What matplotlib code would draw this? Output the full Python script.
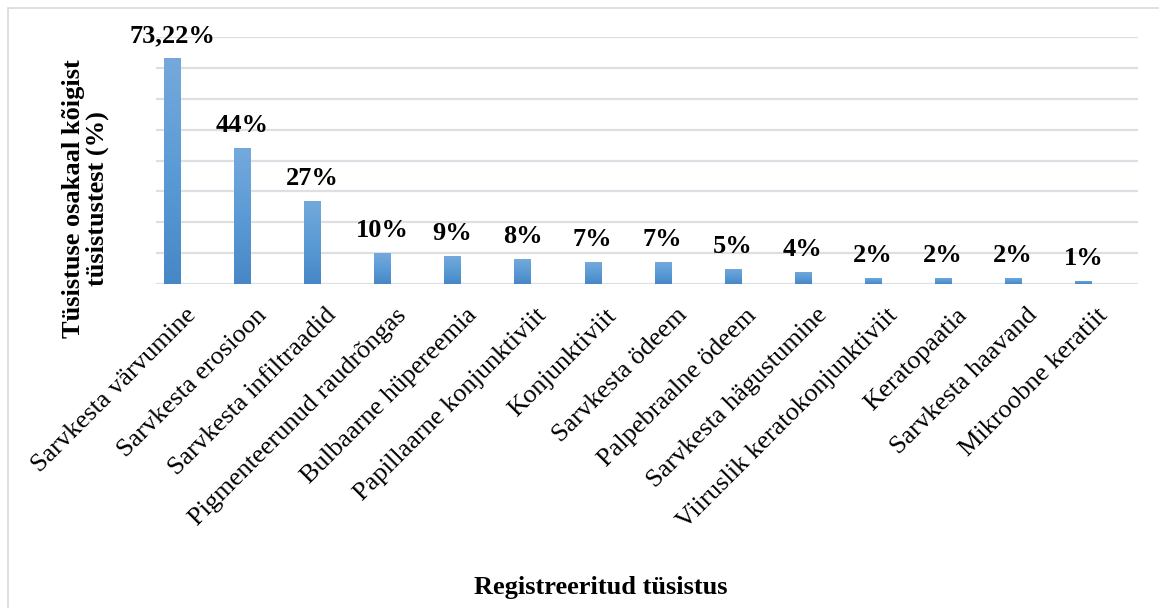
import numpy as np
import matplotlib
matplotlib.use("Agg")
import matplotlib.pyplot as plt
from matplotlib.patches import Rectangle
from matplotlib.colors import LinearSegmentedColormap
from matplotlib.transforms import ScaledTranslation

plt.rcParams['font.family'] = ['Liberation Serif', 'DejaVu Serif']

categories = ['Sarvkesta värvumine', 'Sarvkesta erosioon', 'Sarvkesta infiltraadid',
              'Pigmenteerunud raudrõngas', 'Bulbaarne hüpereemia',
              'Papillaarne konjunktiviit', 'Konjunktiviit', 'Sarvkesta ödeem',
              'Palpebraalne ödeem', 'Sarvkesta hägustumine',
              'Viiruslik keratokonjunktiviit', 'Keratopaatia', 'Sarvkesta haavand',
              'Mikroobne keratiit']
values = [73.22, 44, 27, 10, 9, 8, 7, 7, 5, 4, 2, 2, 2, 1]
labels = ['73,22%', '44%', '27%', '10%', '9%', '8%', '7%', '7%', '5%', '4%',
          '2%', '2%', '2%', '1%']

fig = plt.figure(figsize=(11.59, 6.08), dpi=100)
ax = fig.add_axes([0.1346, 0.533, 0.8473, 0.406])

# light outer frame of the chart
fig.patches.append(Rectangle((8 / 1159, -0.05), 1.1, 1.05 - 8 / 608,
                             transform=fig.transFigure, fill=False,
                             edgecolor='#d9d9d9', lw=1.2, zorder=0))

x = np.arange(len(categories))
bars = ax.bar(x, values, width=0.23, color='#5b9bd5', zorder=2)

# vertical gradient inside each bar
grad = LinearSegmentedColormap.from_list('g', ['#4787c6', '#5b9bd5', '#75a9dc'])
ramp = np.linspace(0, 1, 256).reshape(-1, 1)
for b in bars:
    im = ax.imshow(ramp, cmap=grad, origin='lower', aspect='auto', zorder=3,
                   extent=[b.get_x(), b.get_x() + b.get_width(), 0, b.get_height()])
    im.set_clip_path(b)

for xi, v, lab in zip(x, values, labels):
    ax.annotate(lab, (xi, v), xytext=(0, 11.5), textcoords='offset points',
                ha='center', va='baseline', fontsize=19, fontweight='bold')

ax.set_xlim(-0.228, 13.78)
ax.set_ylim(0, 80)
ax.set_yticks(np.arange(0, 81, 10))
ax.set_yticklabels([])
ax.tick_params(axis='y', length=0)
ax.tick_params(axis='x', length=0, pad=6)
ax.grid(axis='y', color='#dcdfe4', lw=1.6, zorder=0)
for s in ax.spines.values():
    s.set_visible(False)

ax.set_xticks(x)
ax.set_xticklabels(categories, rotation=45, ha='right', va='top',
                   rotation_mode='anchor', fontsize=19)
shift = ScaledTranslation(0.13, -0.12, fig.dpi_scale_trans)
for t in ax.get_xticklabels():
    t.set_transform(t.get_transform() + shift)

fig.text(0.074, 0.674, 'Tüsistuse osakaal kõigist\ntüsistustest (%)', rotation=90,
         ha='center', va='center', fontsize=19, fontweight='bold', linespacing=1.05)
fig.text(0.518, 0.033, 'Registreeritud tüsistus', ha='center', va='center',
         fontsize=19, fontweight='bold')

fig.savefig('out.png', dpi=100)
